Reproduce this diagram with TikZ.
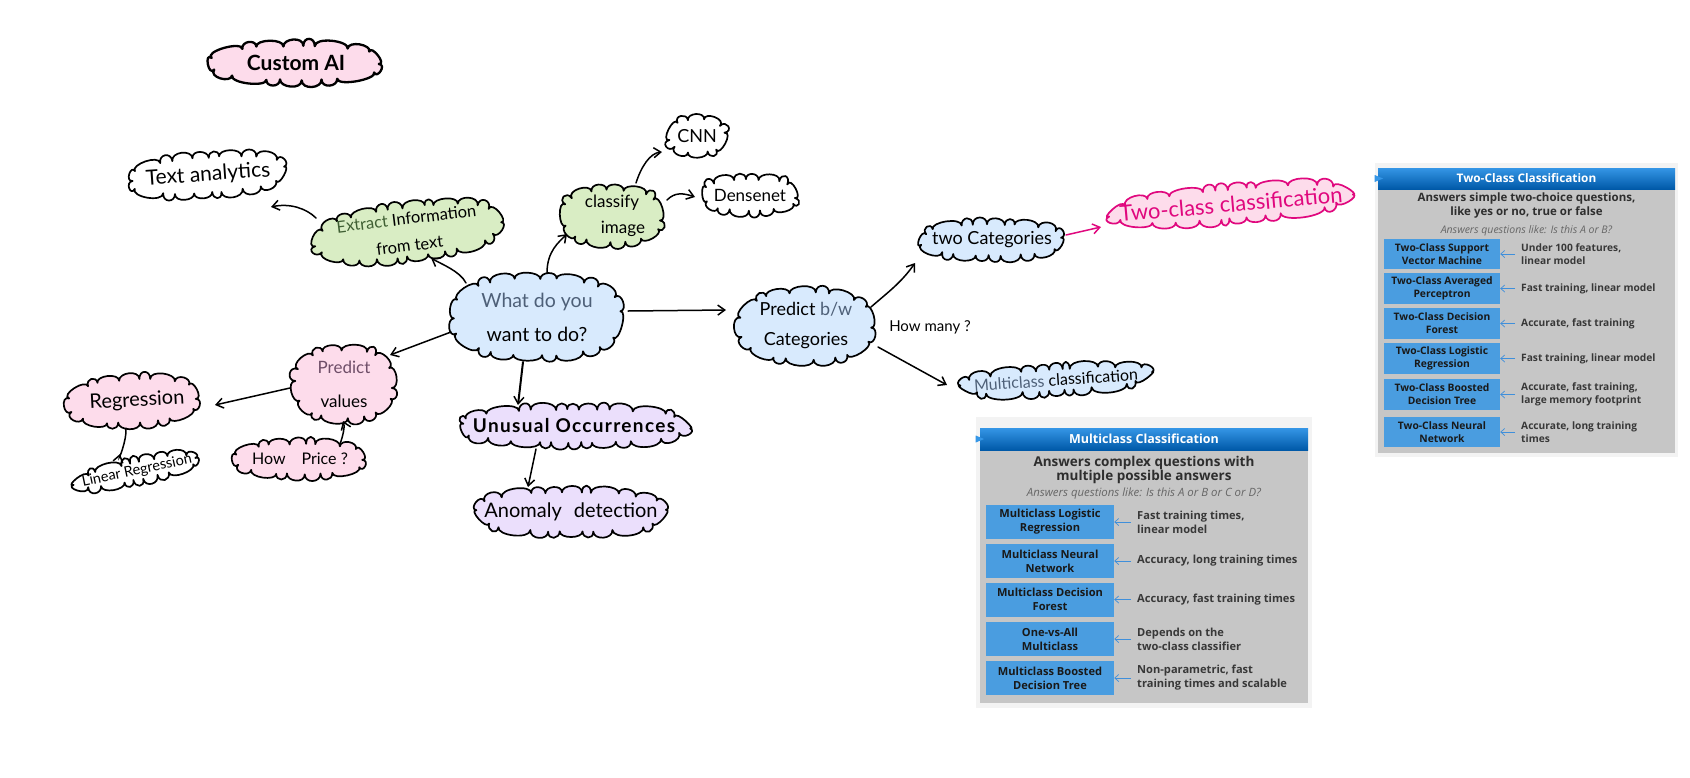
\documentclass[tikz,border=0pt]{standalone}
\usepackage{fontspec}
\setmainfont{Open Sans}
\newfontfamily\handfont{Lato}
\usetikzlibrary{shapes.geometric,arrows.meta,calc}
\definecolor{cblue}{HTML}{D8EAFD}
\definecolor{cgreen}{HTML}{D9EDC4}
\definecolor{cpink}{HTML}{FDDCEB}
\definecolor{cviolet}{HTML}{EBDFFC}
\definecolor{cmag}{HTML}{E0087E}
\definecolor{slate}{HTML}{4E6078}
\definecolor{dgreen}{HTML}{3F5F33}
\definecolor{plum}{HTML}{6E4E68}
\definecolor{panel}{HTML}{C6C6C6}
\definecolor{outerbg}{HTML}{F3F3F3}
\definecolor{algblue}{HTML}{4A9DE0}
\definecolor{arrowblue}{HTML}{3F8FDB}
\definecolor{headtop}{HTML}{3596E6}
\definecolor{headbot}{HTML}{0059A8}
\newcommand{\hs}[2]{\fontsize{#1}{#2}\selectfont}
% hand-drawn cloud outline and a named text node on top of it
% {name}{cx}{cy}{w}{h}{rotation}{puffs}{outline style}{node options}{text}
\newcommand{\puffcloud}[9]{%
  \begingroup
  \pgfmathsetmacro{\ca}{#4/2-6.5}\pgfmathsetmacro{\cb}{#5/2-6.5}%
  \pgfmathsetmacro{\ck}{57.3*(\ca-\cb)/(2*(\ca+\cb))}%
  \pgfmathsetmacro{\cstep}{360/#7}%
  \gdef\cpath{}%
  \foreach \ci in {0,...,#7}{%
    \pgfmathsetmacro{\cj}{mod(\ci,#7)}%
    \pgfmathsetmacro{\ct}{\cj*\cstep+0.22*\cstep*sin(\cj*137+#7*31)}%
    \pgfmathsetmacro{\cu}{\ct+\ck*sin(2*\ct)}%
    \pgfmathsetmacro{\cco}{cos(\cu)}\pgfmathsetmacro{\csi}{sin(\cu)}%
    \pgfmathsetmacro{\cfx}{\cco*pow(abs(\cco)+.001,-.2)}%
    \pgfmathsetmacro{\cfy}{\csi*pow(abs(\csi)+.001,-.2)}%
    \pgfmathsetmacro{\cradd}{1+1.3/\cb*sin(\cj*211+#7*17)*0.35}%
    \pgfmathsetmacro{\cx}{\ca*\cradd*\cfx}\pgfmathsetmacro{\cy}{\cb*\cradd*\cfy}%
    \pgfmathsetmacro{\cnx}{\cco*pow(abs(\cco)+.001,.2)/\ca}%
    \pgfmathsetmacro{\cny}{\csi*pow(abs(\csi)+.001,.2)/\cb}%
    \pgfmathsetmacro{\cnl}{sqrt(\cnx*\cnx+\cny*\cny)}%
    \pgfmathsetmacro{\cnx}{\cnx/\cnl}\pgfmathsetmacro{\cny}{\cny/\cnl}%
    \pgfmathsetmacro{\cbu}{8.5+1.2*sin(\cj*73+#7*11)}%
    \pgfmathsetmacro{\cax}{\cx+\cbu*\cnx}\pgfmathsetmacro{\cay}{\cy+\cbu*\cny}%
    \ifnum\ci=0
      \xdef\cpath{(\cx,\cy)}%
    \else
      \xdef\cpath{\cpath .. controls (\clx,\cly) and (\cax,\cay) .. (\cx,\cy)}%
    \fi
    \xdef\clx{\cax}\xdef\cly{\cay}%
  }%
  \begin{scope}[shift={(#2,#3)},rotate=#6]
    \draw[outline,#8] \cpath -- cycle;
  \end{scope}
  \endgroup
  \node[idea,minimum width=#4 pt,minimum height=#5 pt,rotate=#6,#9;
}
\tikzset{
  x=1pt,y=-1pt,
  outline/.style={draw=black,line width=1.7pt,line join=round},
  idea/.style={shape=ellipse,draw=none,inner sep=0pt,align=center,font=\handfont,text=black},
  conn/.style={draw=black,line width=1.5pt,line cap=round,-{Straight Barb[length=7pt,width=10pt,line width=1.5pt]}},
  tarr/.style={draw=arrowblue,line width=0.7pt,-{Straight Barb[length=4pt,width=7pt,line width=0.7pt]},shorten <=6pt},
  outerpanel/.style={fill=outerbg,draw=none,inner sep=0pt},
  greypanel/.style={fill=panel,draw=none,inner sep=0pt},
  headbar/.style={top color=headtop,bottom color=headbot,draw=none,inner sep=0pt,text=white,font=\bfseries\hs{12.5}{15}},
  algbox/.style={fill=algblue,draw=none,inner sep=0pt,align=center,text=black!90,font=\bfseries\hs{10.3}{13}},
  twobox/.style={algbox,minimum width=116pt,minimum height=30.5pt},
  multibox/.style={algbox,minimum width=128pt,minimum height=34pt,font=\bfseries\hs{11.1}{14}},
  desc/.style={anchor=west,inner sep=0pt,align=left,text=black!78,font=\bfseries\hs{10.2}{13}},
  mdesc/.style={desc,font=\bfseries\hs{11.1}{14}},
  headline/.style={inner sep=0pt,align=center,text=black!82,font=\bfseries\hs{11.5}{14}},
  subline/.style={inner sep=0pt,text=black!60,font=\itshape\hs{10.5}{13}},
  tip/.style={fill=headtop,draw=none,shape=isosceles triangle,inner sep=0pt,minimum width=7pt,minimum height=4pt},
  note/.style={inner sep=0pt,font=\handfont\hs{15}{18},text=black}
}
\begin{document}
\begin{tikzpicture}
\useasboundingbox (0,0) rectangle (1690,777);
\fill[white] (0,0) rectangle (1690,777);

% clouds
\puffcloud{custom}{296}{63}{183}{47}{0}{17}{fill=cpink,line width=2.3pt}{font=\handfont\bfseries\hs{21}{24}] (custom) at (296,63) {Custom AI}}
\puffcloud{text}{208}{175}{168}{48}{4}{20}{}{font=\handfont\hs{21}{24}] (text) at (208,175) {Text analytics}}
\puffcloud{extract}{408}{232}{198}{62}{7}{24}{fill=cgreen}{font=\handfont\hs{16.5}{27}] (extract) at (408,232) {\textcolor{dgreen}{Extract} Information\\from text}}
\puffcloud{classify}{612}{216}{111}{65}{0}{15}{fill=cgreen}{font=\handfont\hs{17}{26}] (classify) at (612,216) {classify\\\hspace{22pt}image}}
\puffcloud{cnn}{697}{136}{68}{46}{0}{10}{}{font=\handfont\hs{18}{20}] (cnn) at (697,136) {CNN}}
\puffcloud{dense}{750}{195}{106}{44}{0}{15}{}{font=\handfont\hs{17}{20}] (dense) at (750,195) {Densenet}}
\puffcloud{what}{537}{317}{181}{90}{0}{20}{fill=cblue}{font=\handfont\hs{19.5}{34}] (what) at (537,317) {\textcolor{slate}{What do you}\\want to do?}}
\puffcloud{pred}{806}{326}{145}{80}{0}{17}{fill=cblue}{font=\handfont\hs{18}{30}] (pred) at (806,326) {Predict \textcolor{slate}{b/w}\\Categories}}
\puffcloud{two}{992}{240}{154}{44}{0}{19}{fill=cblue}{font=\handfont\hs{18}{20}] (two) at (992,240) {two Categories}}
\puffcloud{twoclass}{1231}{204}{252}{42}{5}{24}{fill=cpink,draw=cmag}{font=\handfont\hs{22}{24},text=cmag] (twoclass) at (1231,204) {Two-class classification}}
\puffcloud{multi}{1056}{380}{204}{34}{4}{22}{fill=cblue}{font=\handfont\hs{16}{20}] (multi) at (1056,380) {\textcolor{slate}{Multiclass} classification}}
\puffcloud{values}{344}{384}{110}{81}{0}{16}{fill=cpink}{font=\handfont\hs{17}{34}] (values) at (344,384) {\textcolor{plum}{Predict}\\values}}
\puffcloud{regr}{133}{401}{141}{56}{3}{17}{fill=cpink}{font=\handfont\hs{20}{24}] (regr) at (133,401) {\hspace{8pt}Regression}}
\puffcloud{linear}{137}{471}{138}{30}{12}{18}{}{font=\handfont\hs{14.5}{16}] (linear) at (137,471) {Linear Regression}}
\puffcloud{price}{300}{459}{141}{43}{0}{17}{fill=cpink}{font=\handfont\hs{16}{20}] (price) at (300,459) {How\hspace{16pt}Price ?}}
\puffcloud{unusual}{574}{426}{240}{46}{0}{26}{fill=cviolet}{font=\handfont\bfseries\hs{19}{24}\addfontfeature{LetterSpace=7}] (unusual) at (574,426) {Unusual Occurrences}}
\puffcloud{anomaly}{571}{512}{202}{52}{0}{22}{fill=cviolet}{font=\handfont\hs{20}{24}] (anomaly) at (571,512) {Anomaly\hspace{12pt}detection}}
\node[note] (howmany) at (930,327) {How many ?};

% connectors
\draw[conn] ($(what.center)+(10,-44)$) .. controls +(0,-22) and +(-8,8) .. ($(classify.center)+(-45,18)$);
\draw[conn] ($(classify.center)+(24,-33)$) .. controls +(5,-16) and +(-12,1) .. ($(cnn.center)+(-35,16)$);
\draw[conn] ($(classify.center)+(55,-16)$) .. controls +(8,-8) and +(-12,-4) .. ($(dense.center)+(-55,2)$);
\draw[conn] ($(what.center)+(91,-6)$) -- ($(pred.center)+(-80,-16)$);
\draw[conn] ($(what.center)+(-71,-34)$) .. controls +(-6,-12) and +(10,6) .. ($(extract.center)+(23,26)$);
\draw[conn] ($(extract.center)+(-92,-14)$) .. controls +(-10,-10) and +(18,-4) .. ($(text.center)+(63,32)$);
\draw[conn] ($(what.center)+(-86,15)$) -- ($(values.center)+(46,-29)$);
\draw[conn,line width=2pt] ($(what.center)+(-14,45)$) -- ($(unusual.center)+(-56,-21)$);
\draw[conn] ($(unusual.center)+(-38,23)$) -- ($(anomaly.center)+(-43,-25)$);
\draw[conn] ($(values.center)+(-54,4)$) -- ($(regr.center)+(82,4)$);
\draw[conn] ($(regr.center)+(-7,27)$) .. controls +(1,12) and +(-2,8) .. ($(linear.center)+(-17,-17)$);
\draw[conn] ($(price.center)+(40,-15)$) .. controls +(3,-8) and +(2,5) .. ($(values.center)+(-1,37)$);
\draw[conn] ($(pred.center)+(65,-19)$) .. controls +(16,-14) and +(-14,20) .. ($(two.center)+(-77,23)$);
\draw[conn] ($(pred.center)+(72,21)$) -- ($(multi.center)+(-109,5)$);
\draw[conn,draw=cmag,-{Straight Barb[length=7pt,width=10pt,line width=1.5pt,color=cmag]}] ($(two.center)+(74,-5)$) -- ($(twoclass.center)+(-130,23)$);

% two-class table
\node[outerpanel,minimum width=303pt,minimum height=294pt] (twoouter) at (1526.5,310) {};
\node[greypanel,minimum width=297pt,minimum height=285pt] (twopanel) at (1526.5,310.5) {};
\node[headbar,minimum width=297pt,minimum height=21pt,font=\bfseries\hs{11.8}{15}] (twohead) at (1526.5,178.5) {Two-Class Classification};
\node[tip] (twotip) at (1377,178.5) {};
\node[headline] (twoq) at (1526.5,206) {Answers simple two-choice questions,\\like yes or no, true or false};
\node[subline] (twosub) at (1526.5,230.5) {Answers questions like: Is this A or B?};
\node[twobox] (t1) at (1442,254) {Two-Class Support\\Vector Machine};
\node[twobox] (t2) at (1442,288.5) {Two-Class Averaged\\Perceptron};
\node[twobox] (t3) at (1442,323.5) {Two-Class Decision\\Forest};
\node[twobox] (t4) at (1442,358.5) {Two-Class Logistic\\Regression};
\node[twobox] (t5) at (1442,394.5) {Two-Class Boosted\\Decision Tree};
\node[twobox] (t6) at (1442,432) {Two-Class Neural\\Network};
\node[desc] (td1) at (1521,254) {Under 100 features,\\linear model};
\node[desc] (td2) at (1521,288.5) {Fast training, linear model};
\node[desc] (td3) at (1521,323.5) {Accurate, fast training};
\node[desc] (td4) at (1521,358.5) {Fast training, linear model};
\node[desc] (td5) at (1521,394.5) {Accurate, fast training,\\large memory footprint};
\node[desc] (td6) at (1521,432) {Accurate, long training\\times};
\foreach \i in {1,...,6} \draw[tarr] (t\i.east -| td\i.west) -- (t\i.east);

% multiclass table
\node[outerpanel,minimum width=336pt,minimum height=291pt] (multiouter) at (1144,562.5) {};
\node[greypanel,minimum width=328pt,minimum height=275pt] (multipanel) at (1144,565.5) {};
\node[headbar,minimum width=328pt,minimum height=22pt] (multihead) at (1144,439) {Multiclass Classification};
\node[tip] (multitip) at (978,439) {};
\node[headline,font=\bfseries\hs{13.5}{14.5}] (multiq) at (1144,470) {Answers complex questions with\\multiple possible answers};
\node[subline,font=\itshape\hs{11.4}{13}] (multisub) at (1144,494) {Answers questions like: Is this A or B or C or D?};
\node[multibox] (m1) at (1050,522) {Multiclass Logistic\\Regression};
\node[multibox] (m2) at (1050,561) {Multiclass Neural\\Network};
\node[multibox] (m3) at (1050,599.5) {Multiclass Decision\\Forest};
\node[multibox] (m4) at (1050,639) {One-vs-All\\Multiclass};
\node[multibox] (m5) at (1050,678) {Multiclass Boosted\\Decision Tree};
\node[mdesc] (md1) at (1137,522) {Fast training times,\\linear model};
\node[mdesc] (md2) at (1137,561) {Accuracy, long training times};
\node[mdesc] (md3) at (1137,599.5) {Accuracy, fast training times};
\node[mdesc] (md4) at (1137,639) {Depends on the\\two-class classifier};
\node[mdesc] (md5) at (1137,678) {Non-parametric, fast\\training times and scalable};
\foreach \i in {1,...,5} \draw[tarr] (m\i.east -| md\i.west) -- (m\i.east);
\end{tikzpicture}
\end{document}
